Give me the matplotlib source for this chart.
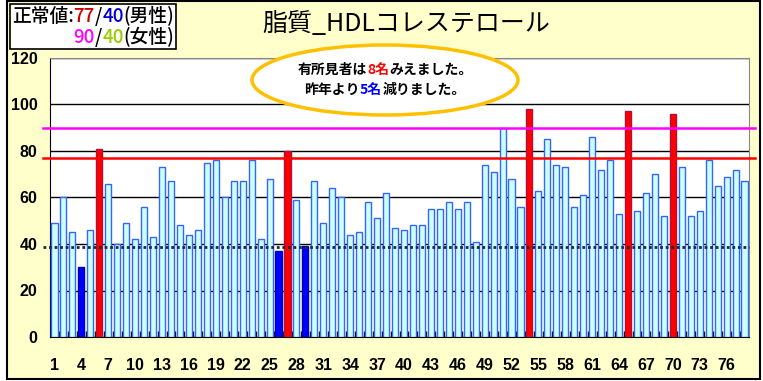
import matplotlib
matplotlib.use("Agg")
import matplotlib.pyplot as plt
from matplotlib.patches import Ellipse, Rectangle
from matplotlib.offsetbox import TextArea, HPacker, VPacker, AnchoredOffsetbox

# HDL cholesterol per person (78 people)
values = [49, 60, 45, 30, 46, 81, 66, 40, 49, 42, 56, 43, 73, 67, 48, 44, 46, 75, 76, 60,
          67, 67, 76, 42, 68, 37, 80, 59, 39, 67, 49, 64, 60, 44, 45, 58, 51, 62, 47, 46,
          48, 48, 55, 55, 58, 55, 58, 41, 74, 71, 90, 68, 56, 98, 63, 85, 74, 73, 56, 61,
          86, 72, 76, 53, 97, 54, 62, 70, 52, 96, 73, 52, 54, 76, 65, 69, 72, 67]
high_ids = [6, 27, 54, 65, 70]
low_ids = [4, 26, 29]
male_upper = 77
female_upper = 90
lower_line = 38.5
yticks = [0, 20, 40, 60, 80, 100, 120]

title = "脂質_HDLコレステロール"
jp = ["Noto Sans CJK JP", "DejaVu Sans"]

W, H = 763, 381
fig = plt.figure(figsize=(W / 100, H / 100), dpi=100)
fig.patch.set_facecolor("white")
fig.add_artist(Rectangle((7 / W, 1 - 379 / H), 753 / W, 378 / H, transform=fig.transFigure,
                         facecolor="#FFFFCC", edgecolor="black", lw=1.5, zorder=-10))

ax = fig.add_axes([50 / W, 1 - 337 / H, 699 / W, 279 / H])
ax.set_facecolor("white")

n = len(values)
xs = list(range(1, n + 1))
fills, edges = [], []
for i in xs:
    if i in high_ids:
        fills.append("#FF0000"); edges.append("#B0103A")
    elif i in low_ids:
        fills.append("#0000FF"); edges.append("#0000B0")
    else:
        fills.append("#CCFFFF"); edges.append("#3366FF")
ax.bar(xs, values, width=0.68, color=fills, edgecolor=edges, linewidth=1.0, zorder=3)

ax.set_xlim(0.5, n + 0.5)
ax.set_ylim(0, 120)
ax.set_yticks(yticks)
ax.set_yticklabels([str(v) for v in yticks], family="Liberation Sans", fontsize=11.5, fontweight="bold")
ax.yaxis.grid(True, color="black", lw=1.0, zorder=0)
ax.set_axisbelow(True)
ax.tick_params(axis="y", length=0, pad=9)

ax.set_xticks(xs[::3])
ax.set_xticklabels([str(v) for v in xs[::3]], family="Liberation Sans", fontsize=11.5, fontweight="bold")
ax.set_xticks([i + 0.5 for i in xs[:-1]], minor=True)
ax.tick_params(axis="x", which="major", length=0, pad=15)
ax.tick_params(axis="x", which="minor", direction="in", length=4, width=1.0, color="black")

for s in ["left", "bottom"]:
    ax.spines[s].set_color("black")
for s in ["top", "right"]:
    ax.spines[s].set_color("#888888")

# threshold lines, drawn a bit past the plot area
tr = ax.get_yaxis_transform()
ax.plot([-0.01, 1.009], [female_upper] * 2, color="#FF00FF", lw=1.8, transform=tr, clip_on=False, zorder=5)
ax.plot([-0.01, 1.009], [male_upper] * 2, color="#FF0000", lw=1.8, transform=tr, clip_on=False, zorder=5)
ax.plot([-0.01, 1.0], [lower_line] * 2, color="#1A2A3A", lw=2.0, ls=(0, (1, 1)), transform=tr,
        clip_on=False, zorder=5)

fig.text(406 / W, 1 - 24 / H, title, family=jp, fontsize=18, ha="center", va="center")


def seg(s, c, size, weight="normal"):
    return TextArea(s, textprops=dict(color=c, family=jp, fontsize=size, fontweight=weight))


# normal range box (top left)
fs = 13.5
w1 = "medium"
line1 = HPacker(children=[seg("正常値:", "black", fs, w1), seg("77", "#CC0000", fs, w1), seg("/", "black", fs, w1),
                          seg("40", "#0000CC", fs, w1), seg("(男性)", "black", fs, w1)], pad=0, sep=0)
line2 = HPacker(children=[seg("90", "#FF00FF", fs, w1), seg("/", "black", fs, w1), seg("40", "#99CC00", fs, w1),
                          seg("(女性)", "black", fs, w1)], pad=0, sep=0)
box = VPacker(children=[line1, line2], align="right", pad=0, sep=1)
ab = AnchoredOffsetbox(loc="upper left", child=box, pad=0.12, borderpad=0, frameon=True,
                       bbox_to_anchor=(10 / W, 1 - 4 / H), bbox_transform=fig.transFigure)
ab.patch.set_edgecolor("black")
ab.patch.set_linewidth(1.2)
ab.patch.set_boxstyle("square", pad=0)
ab.set_zorder(6)
fig.add_artist(ab)

# callout ellipse
fig.add_artist(Ellipse((385 / W, 1 - 80 / H), 266 / W, 70 / H, transform=fig.transFigure,
                       facecolor="white", edgecolor="#FFC000", lw=2.5, zorder=6))
fs2 = 10
l1 = HPacker(children=[seg("有所見者は", "black", fs2, "bold"), seg("8名", "#FF0000", fs2, "bold"),
                       seg("みえました。", "black", fs2, "bold")], pad=0, sep=0)
l2 = HPacker(children=[seg("昨年より", "black", fs2, "bold"), seg("5名", "#0000FF", fs2, "bold"),
                       seg("減りました。", "black", fs2, "bold")], pad=0, sep=0)
msg = VPacker(children=[l1, l2], align="center", pad=0, sep=4)
ab2 = AnchoredOffsetbox(loc="center", child=msg, pad=0, borderpad=0, frameon=False,
                        bbox_to_anchor=(385 / W, 1 - 80 / H), bbox_transform=fig.transFigure)
ab2.set_zorder(7)
fig.add_artist(ab2)

fig.savefig("out.png", dpi=100, facecolor=fig.get_facecolor())
